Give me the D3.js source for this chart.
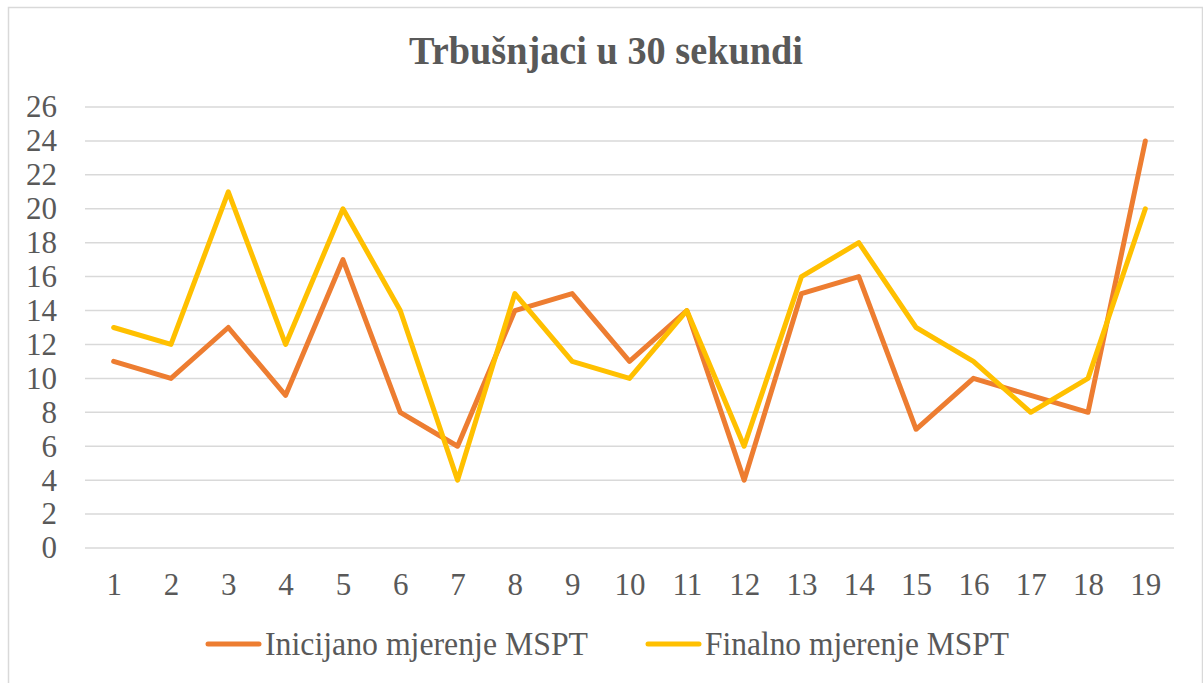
<!DOCTYPE html>
<html>
<head>
<meta charset="utf-8">
<script src="https://cdn.jsdelivr.net/npm/d3@7"></script>
<style>
  body { margin: 0; background: #fff; }
  svg text { font-family: 'Liberation Serif', 'Times New Roman', Times, serif !important; fill: #595959; }
</style>
</head>
<body>
<div id="chart"></div>
<script>
var categories = ["1","2","3","4","5","6","7","8","9","10","11","12","13","14","15","16","17","18","19"];
var initial = [11, 10, 13, 9, 17, 8, 6, 14, 15, 11, 14, 4, 15, 16, 7, 10, 9, 8, 24];
var final = [13, 12, 21, 12, 20, 14, 4, 15, 11, 10, 14, 6, 16, 18, 13, 11, 8, 10, 20];
var yTicks = d3.range(0, 27, 2);
var seriesNames = ["Inicijano mjerenje MSPT", "Finalno mjerenje MSPT"];
var seriesColors = ["#ED7D31", "#FFC000"];
var title = "Trbušnjaci u 30 sekundi";

var W = 1203, H = 683;
var margin = {top: 107, right: 29, bottom: 135, left: 85}
    , width = W - margin.left - margin.right
    , height = H - margin.top - margin.bottom;

var svg = d3.select("#chart").append("svg")
    .attr("width", W)
    .attr("height", H);

// chart frame
svg.append("rect")
    .attr("x", 8.5).attr("y", 7.5)
    .attr("width", W - 9).attr("height", H)
    .attr("fill", "#fff")
    .attr("stroke", "#D9D9D9")
    .attr("stroke-width", 1.5);

svg.append("text")
    .attr("x", 409).attr("y", 64)
    .attr("textLength", 394)
    .attr("lengthAdjust", "spacingAndGlyphs")
    .style("font-size", "39px")
    .style("font-weight", "bold")
    .text(title);

var g = svg.append("g")
    .attr("transform", "translate(" + margin.left + "," + margin.top + ")");

var x = d3.scalePoint()
    .domain(categories)
    .range([0, width])
    .padding(0.5);

var y = d3.scaleLinear()
    .domain([0, 26])
    .range([height, 0]);

// gridlines
g.selectAll(".grid")
    .data(yTicks)
    .enter().append("line")
    .attr("x1", 0).attr("x2", width)
    .attr("y1", function (d) { return y(d); })
    .attr("y2", function (d) { return y(d); })
    .attr("stroke", "#D9D9D9")
    .attr("stroke-width", 1.5);

// y axis labels
var yAxis = g.append("g")
    .call(d3.axisLeft(y).tickValues(yTicks).tickSize(0).tickPadding(28));
yAxis.select(".domain").remove();
yAxis.selectAll("text")
    .attr("fill", "#595959")
    .style("font-size", "31px");

// x axis labels
var xAxis = g.append("g")
    .attr("transform", "translate(0," + height + ")")
    .call(d3.axisBottom(x).tickSize(0).tickPadding(25));
xAxis.select(".domain").remove();
xAxis.selectAll("text")
    .attr("fill", "#595959")
    .style("font-size", "31px");

var line = d3.line()
    .x(function (d, i) { return x(categories[i]); })
    .y(function (d) { return y(d); });

[initial, final].forEach(function (s, i) {
    g.append("path")
        .datum(s)
        .attr("fill", "none")
        .attr("stroke", seriesColors[i])
        .attr("stroke-width", 5)
        .attr("stroke-linejoin", "round")
        .attr("stroke-linecap", "round")
        .attr("d", line);
});

// legend
var legendX = [205, 645];
var legendW = [323, 304];
seriesNames.forEach(function (name, i) {
    var lg = svg.append("g")
        .attr("transform", "translate(" + legendX[i] + ",644)");
    lg.append("line")
        .attr("x1", 3).attr("x2", 54)
        .attr("stroke", seriesColors[i])
        .attr("stroke-width", 5)
        .attr("stroke-linecap", "round");
    lg.append("text")
        .attr("x", 60).attr("y", 11)
        .attr("textLength", legendW[i])
        .attr("lengthAdjust", "spacingAndGlyphs")
        .style("font-size", "34px")
        .text(name);
});
</script>
</body>
</html>
